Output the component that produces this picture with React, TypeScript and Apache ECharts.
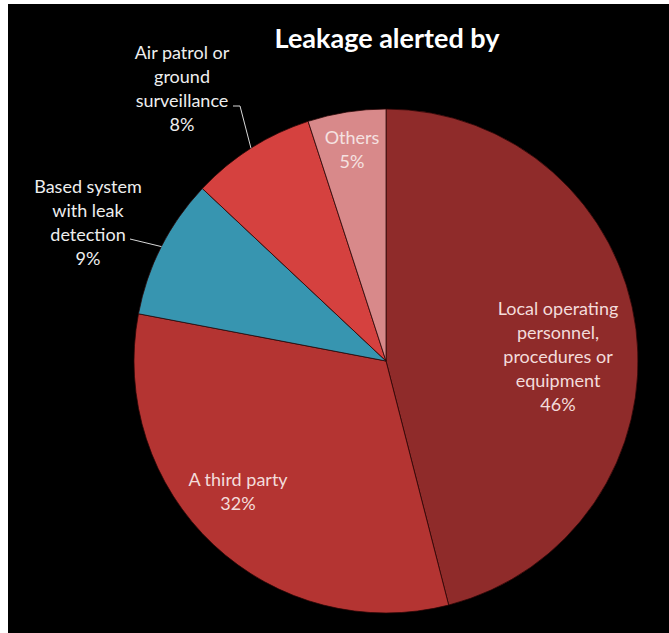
import React, { useEffect, useRef } from "react";
import * as echarts from "echarts";

const TITLE = "Leakage alerted by";
const categories = [
  "Local operating personnel, procedures or equipment",
  "A third party",
  "Based system with leak detection",
  "Air patrol or ground surveillance",
  "Others",
];
const wrappedLabels = [
  "Local operating\npersonnel,\nprocedures or\nequipment",
  "A third party",
  "Based system\nwith leak\ndetection",
  "Air patrol or\nground\nsurveillance",
  "Others",
];
const values = [46, 32, 9, 8, 5];

const COLORS = ["#8f2b2a", "#b43432", "#3795b0", "#d5413f", "#d8898a"];
const LABEL_COLORS = ["#f3dcdb", "#f3dcdb", "#eeeeee", "#eeeeee", "#f5e2e1"];
// label anchor points (chart px)
const LABEL_POS: [number, number][] = [
  [550, 352],
  [230, 487],
  [80, 218],
  [174, 84],
  [344, 145],
];
// leader line start points for outside labels (chart px)
const LEADER_START: Record<number, [number, number][]> = {
  2: [[122, 235]],
  3: [
    [225, 102],
    [232, 102],
  ],
};

const CX = 378;
const CY = 357;
const R = 252;

export default function App() {
  const ref = useRef<HTMLDivElement>(null);
  useEffect(() => {
    if (!ref.current) return;
    const chart = echarts.init(ref.current, undefined, { renderer: "svg" });
    const total = values.reduce((a, b) => a + b, 0);
    let cum = 0;
    const mids: number[] = values.map((v) => {
      const m = ((cum + v / 2) / total) * Math.PI * 2;
      cum += v;
      return m;
    });
    const leaders: any[] = Object.keys(LEADER_START).map((k) => {
      const i = Number(k);
      const th = mids[i];
      const edge: [number, number] = [CX + R * Math.sin(th), CY - R * Math.cos(th)];
      return {
        type: "polyline",
        silent: true,
        z: 100,
        shape: { points: [...LEADER_START[i], edge] },
        style: { stroke: "#d8d8d8", lineWidth: 1, fill: null },
      };
    });
    chart.setOption({
      animation: false,
      backgroundColor: "#000000",
      graphic: [
        {
          type: "text",
          x: 387 - 8,
          y: 33,
          style: {
            text: TITLE,
            fill: "#ffffff",
            font: "bold 27px Lato",
            align: "center",
            verticalAlign: "middle",
          },
        },
        ...leaders,
      ],
      series: [
        {
          type: "pie",
          center: [CX, CY],
          radius: R,
          startAngle: 90,
          clockwise: true,
          avoidLabelOverlap: false,
          itemStyle: { borderColor: "rgba(40,5,5,0.75)", borderWidth: 1 },
          label: {
            show: true,
            position: "inside",
            fontFamily: "Lato",
            fontSize: 18,
            lineHeight: 24,
            align: "center",
            formatter: (p: any) => wrappedLabels[p.dataIndex] + "\n" + p.value + "%",
          },
          labelLine: { show: false },
          labelLayout: (p: any) => ({
            x: LABEL_POS[p.dataIndex][0],
            y: LABEL_POS[p.dataIndex][1],
            align: "center",
            verticalAlign: "middle",
          }),
          emphasis: { disabled: true },
          data: categories.map((name, i) => ({
            name,
            value: values[i],
            itemStyle: { color: COLORS[i] },
            label: { color: LABEL_COLORS[i] },
          })),
        },
      ],
    });
    return () => chart.dispose();
  }, []);
  return (
    <div
      ref={ref}
      style={{ position: "absolute", left: 8, top: 4, width: 661, height: 629 }}
    />
  );
}
